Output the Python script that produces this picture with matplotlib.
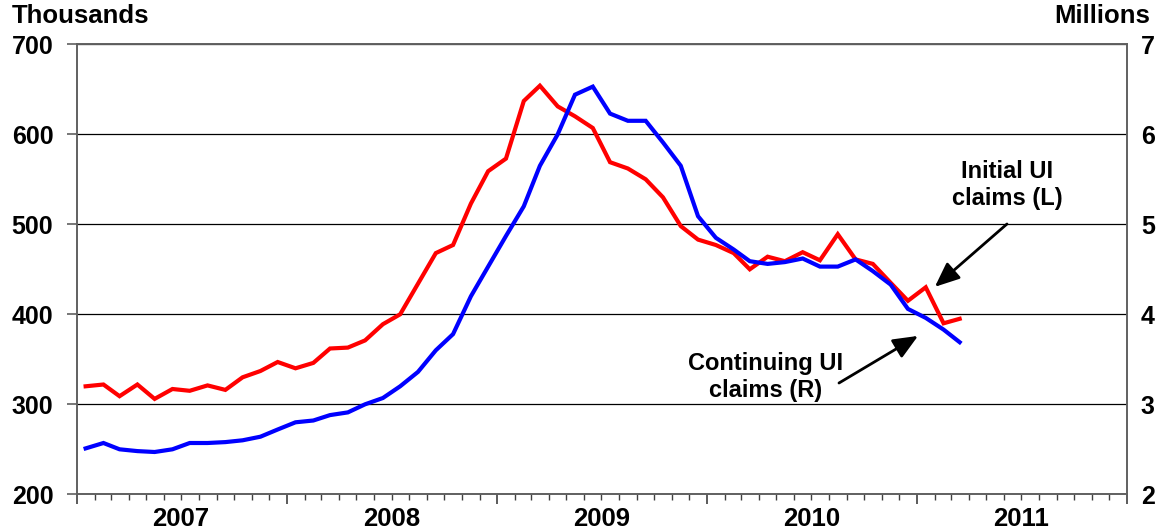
import matplotlib
matplotlib.use("Agg")
import matplotlib.pyplot as plt
import matplotlib.dates as mdates
import pandas as pd
import numpy as np

plt.rcParams['font.family'] = ['Liberation Sans', 'DejaVu Sans']
plt.rcParams['font.weight'] = 'bold'

# Monthly data, Jan 2007 - Mar 2011
initial_claims = [320, 322, 309, 322, 306, 317, 315, 321, 316, 330, 337, 347,
                  340, 346, 362, 363, 371, 389, 400, 434, 468, 477, 523, 559,
                  573, 637, 654, 631, 620, 607, 569, 562, 550, 530, 498, 483,
                  477, 468, 450, 464, 459, 469, 460, 489, 461, 456, 435, 415,
                  430, 390, 395]
continuing_claims = [2.51, 2.57, 2.50, 2.48, 2.47, 2.50, 2.57, 2.57, 2.58, 2.60, 2.64, 2.72,
                     2.80, 2.82, 2.88, 2.91, 3.00, 3.07, 3.20, 3.36, 3.60, 3.78, 4.20, 4.53,
                     4.87, 5.20, 5.65, 6.00, 6.44, 6.53, 6.23, 6.15, 6.15, 5.91, 5.65, 5.09,
                     4.85, 4.72, 4.59, 4.56, 4.58, 4.62, 4.53, 4.53, 4.61, 4.48, 4.33, 4.06,
                     3.96, 3.83, 3.69]
year_labels = ['2007', '2008', '2009', '2010', '2011']
left_ticks = [200, 300, 400, 500, 600, 700]
right_ticks = [2, 3, 4, 5, 6, 7]

dates = pd.date_range('2007-01-01', periods=len(initial_claims), freq='MS') + pd.Timedelta(days=15)

fig = plt.figure(figsize=(11.59, 5.32), dpi=100)
ax = fig.add_axes([77/1159, 1 - 494.3/532, 1050/1159, 450/532])
ax2 = ax.twinx()

ax.plot(dates, initial_claims, color='#FF0000', lw=3, solid_joinstyle='miter', zorder=3)
ax2.plot(dates, continuing_claims, color='#0000FF', lw=3, solid_joinstyle='miter', zorder=3)

ax.set_xlim(pd.Timestamp('2007-01-01'), pd.Timestamp('2012-01-01'))
ax.set_ylim(200, 700)
ax2.set_ylim(2, 7)
ax.set_yticks(left_ticks)
ax.set_yticklabels([str(v) for v in left_ticks])
ax2.set_yticks(right_ticks)
ax2.set_yticklabels([str(v) for v in right_ticks])

ax.yaxis.grid(True, color='black', lw=0.9)
ax.set_axisbelow(True)

ax.xaxis.set_major_locator(mdates.YearLocator())
ax.xaxis.set_minor_locator(mdates.MonthLocator())
ax.xaxis.set_major_formatter(plt.NullFormatter())
ax.tick_params(axis='x', which='major', length=7, width=1.2, color='#404040', direction='out')
ax.tick_params(axis='x', which='minor', length=4, width=1.0, color='#404040', direction='out')
ax.tick_params(axis='y', length=7, width=1.2, color='#606060', labelsize=18, pad=10)
ax2.tick_params(axis='y', length=0, labelsize=18, pad=10)

for sp in ['left', 'right', 'top', 'bottom']:
    ax.spines[sp].set_color('#606060')
    ax.spines[sp].set_linewidth(1.2)
    ax2.spines[sp].set_color('#606060')
    ax2.spines[sp].set_linewidth(1.2)

trans = matplotlib.transforms.blended_transform_factory(ax.transData, ax.transAxes)
for i, lab in enumerate(year_labels):
    xm = mdates.date2num(pd.Timestamp(f'{2007 + i}-07-01'))
    ax.text(xm, -0.055, lab, transform=trans, ha='center', va='center',
            fontsize=18.5, fontweight='bold')

fig.text(12/1159, 1 - 16/532, 'Thousands', ha='left', va='center', fontsize=18.5, fontweight='bold')
fig.text(1150/1159, 1 - 16/532, 'Millions', ha='right', va='center', fontsize=18.5, fontweight='bold')

arrow_style = dict(arrowstyle='-|>,head_length=0.75,head_width=0.32', color='black',
                   lw=2, mutation_scale=20, shrinkA=0, shrinkB=0)
ax2.text(0.8857, 0.687, 'Initial UI\nclaims (L)', transform=ax2.transAxes,
         ha='center', va='center', fontsize=17, fontweight='bold', linespacing=1.2)
ax2.annotate('', xy=(0.817, 0.461), xycoords='axes fraction',
             xytext=(0.8857, 0.6007), textcoords='axes fraction', arrowprops=arrow_style)
ax2.text(0.656, 0.2607, 'Continuing UI\nclaims (R)', transform=ax2.transAxes,
         ha='center', va='center', fontsize=17, fontweight='bold', linespacing=1.2)
ax2.annotate('', xy=(0.801, 0.352), xycoords='axes fraction',
             xytext=(0.7257, 0.2473), textcoords='axes fraction', arrowprops=arrow_style)

fig.savefig('out.png', dpi=100)
